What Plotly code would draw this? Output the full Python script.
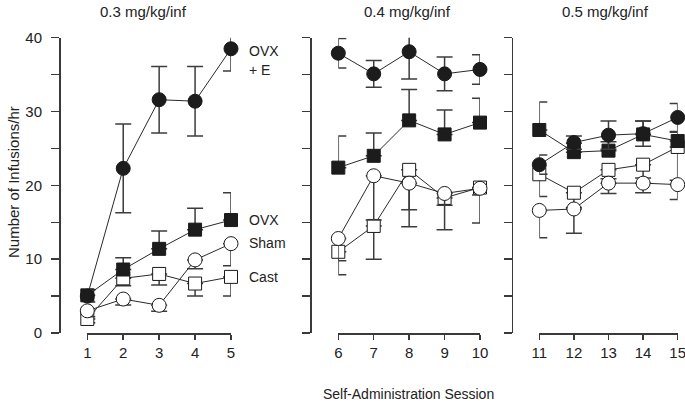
import plotly.graph_objects as go

# ---------------- data ----------------
panel_sessions = [[1, 2, 3, 4, 5], [6, 7, 8, 9, 10], [11, 12, 13, 14, 15]]
panel_titles = ["0.3 mg/kg/inf", "0.4 mg/kg/inf", "0.5 mg/kg/inf"]

# OVX + E (filled circles), error bars both ways
ovxe_vals = [[5.0, 22.3, 31.6, 31.4, 38.5], [37.9, 35.1, 38.1, 35.1, 35.7], [22.8, 25.8, 26.8, 27.0, 29.2]]
ovxe_err = [[0.8, 6.0, 4.5, 4.7, 3.0], [2.0, 1.8, 3.7, 2.3, 2.0], [1.3, 0.9, 1.9, 1.7, 1.9]]

# OVX (filled squares), error bars upward
ovx_vals = [[5.1, 8.6, 11.4, 14.0, 15.3], [22.4, 24.0, 28.8, 26.9, 28.5], [27.5, 24.5, 24.7, 26.9, 26.0]]
ovx_err = [[0.8, 1.6, 2.4, 2.9, 3.7], [4.3, 3.1, 4.2, 3.3, 3.3], [3.8, 1.2, 1.2, 1.8, 1.2]]

# Sham (open circles), error bars downward
sham_vals = [[3.0, 4.6, 3.75, 9.9, 12.1], [12.8, 21.3, 20.3, 18.9, 19.6], [16.6, 16.8, 20.3, 20.3, 20.1]]
sham_err = [[0.8, 0.8, 0.8, 1.2, 3.0], [3.0, 6.0, 5.9, 4.9, 4.7], [3.7, 3.3, 1.4, 1.3, 2.0]]

# Cast (open squares), error bars downward
cast_vals = [[1.9, 7.4, 8.0, 6.7, 7.6], [11.0, 14.5, 22.1, 18.3, 19.7], [21.5, 19.0, 22.1, 22.8, 25.2]]
cast_err = [[0.5, 1.0, 1.5, 1.7, 2.6], [3.1, 4.5, 5.4, 1.0, 1.0], [3.0, 2.0, 1.2, 1.8, 4.5]]

y_tickvals = [0, 5, 10, 15, 20, 25, 30, 35, 40]
y_ticktext = ["0", "", "10", "", "20", "", "30", "", "40"]

# ---------------- layout helpers ----------------
W, H = 685, 403
FONT = "Liberation Sans, Arial, Helvetica, sans-serif"
AX = "#3a3a3a"
TXT = "#222222"
FILL = "#1c1c1c"

def fx(p):
    return p / W

def fy(p):
    return 1 - p / H

x_dom_px = [(87.3, 231.0), (338.3, 480.0), (539.3, 677.7)]
y_pos_px = [59.0, 310.0, 511.7]
y_dom = [fy(333.0), fy(37.7)]

fig = go.Figure()

series = [
    ("Cast", cast_vals, cast_err, "square", "white", "down", 13),
    ("Sham", sham_vals, sham_err, "circle", "white", "down", 14),
    ("OVX", ovx_vals, ovx_err, "square", FILL, "up", 13),
    ("OVX + E", ovxe_vals, ovxe_err, "circle", FILL, "both", 14),
]

for p in range(3):
    xref = "x" if p == 0 else f"x{p+1}"
    yref = "y" if p == 0 else f"y{p+1}"
    for name, vals, errs, sym, fill, direction, size in series:
        e = errs[p]
        zeros = [0] * len(e)
        if direction == "both":
            plus, minus = e, e
        elif direction == "up":
            plus, minus = e, zeros
        else:
            plus, minus = zeros, e
        fig.add_trace(go.Scatter(
            x=panel_sessions[p], y=vals[p], xaxis=xref, yaxis=yref,
            mode="lines+markers", name=name, showlegend=False,
            cliponaxis=False,
            line=dict(color="#2a2a2a", width=1),
            marker=dict(symbol=sym, size=size, color=fill,
                        line=dict(color="#1a1a1a", width=1)),
            error_y=dict(type="data", symmetric=False, array=plus, arrayminus=minus,
                         color="#3c3c3c", thickness=1.5, width=8),
        ))

layout = dict(
    width=W, height=H,
    margin=dict(l=0, r=0, t=0, b=0, autoexpand=False),
    paper_bgcolor="white", plot_bgcolor="white",
    font=dict(family=FONT, size=15, color=TXT),
    showlegend=False,
)

for p in range(3):
    xk = "xaxis" if p == 0 else f"xaxis{p+1}"
    yk = "yaxis" if p == 0 else f"yaxis{p+1}"
    yname = "y" if p == 0 else f"y{p+1}"
    s = panel_sessions[p]
    layout[xk] = dict(
        domain=[fx(x_dom_px[p][0]), fx(x_dom_px[p][1])],
        range=[s[0], s[-1]], anchor=yname,
        tickvals=s, ticktext=[str(v) for v in s],
        showline=True, linecolor=AX, linewidth=1.5,
        ticks="outside", ticklen=5, tickwidth=1.5, tickcolor=AX,
        ticklabeloverflow="allow",
        showgrid=False, zeroline=False, fixedrange=True,
        tickfont=dict(family=FONT, size=15, color=TXT),
    )
    layout[yk] = dict(
        domain=y_dom, range=[0, 40], anchor="free", position=fx(y_pos_px[p]),
        tickvals=y_tickvals, ticktext=y_ticktext,
        showticklabels=(p == 0),
        showline=True, linecolor=AX, linewidth=1.5,
        ticks="outside", ticklen=8, tickwidth=1.5, tickcolor=AX,
        ticklabelstandoff=6, ticklabeloverflow="allow",
        showgrid=False, zeroline=False, fixedrange=True,
        tickfont=dict(family=FONT, size=15, color=TXT),
    )

fig.update_layout(**layout)

annotations = []
title_x_px = [143, 407, 605]
for p in range(3):
    annotations.append(dict(
        text=panel_titles[p], xref="paper", yref="paper",
        x=fx(title_x_px[p]), y=fy(11), xanchor="center", yanchor="middle",
        showarrow=False, font=dict(family=FONT, size=15, color=TXT)))

annotations.append(dict(
    text="Number of Infusions/hr", xref="paper", yref="paper",
    x=fx(13), y=fy(182), textangle=-90, xanchor="center", yanchor="middle",
    showarrow=False, font=dict(family=FONT, size=15, color=TXT)))
annotations.append(dict(
    text="Self-Administration Session", xref="paper", yref="paper",
    x=fx(408), y=fy(394), xanchor="center", yanchor="middle",
    showarrow=False, font=dict(family=FONT, size=14, color=TXT)))

series_labels = [("OVX", 38.2), ("+ E", 35.6), ("OVX", 15.3), ("Sham", 12.2), ("Cast", 7.6)]
for txt, yv in series_labels:
    annotations.append(dict(
        text=txt, xref="x", yref="y", x=panel_sessions[0][-1], y=yv,
        xanchor="left", yanchor="middle", xshift=16,
        showarrow=False, font=dict(family=FONT, size=14, color=TXT)))

fig.update_layout(annotations=annotations)

fig.write_html(
    "out.html",
    config={"displayModeBar": False, "staticPlot": True},
    post_script="document.body.style.margin='0';document.body.style.overflow='hidden';",
)
